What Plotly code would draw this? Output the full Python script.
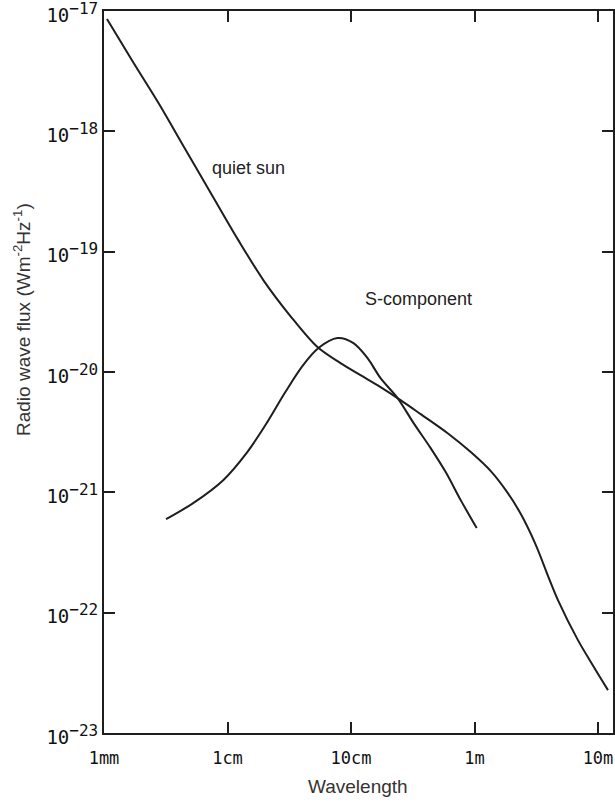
import plotly.graph_objects as go

# Quiet sun curve (wavelength in metres, flux in W m^-2 Hz^-1)
quiet_wavelength = [1.057e-3, 1.718e-3, 2.793e-3, 4.54e-3, 7.66e-3, 1.223e-2, 1.950e-2, 3.23e-2,
                    5.35e-2, 8.22e-2, 0.1194, 0.1735, 0.2520, 0.3664, 0.6067, 0.933, 1.355,
                    1.862, 2.373, 3.14, 4.00, 4.74, 6.88, 9.28, 12.05]
quiet_flux = [8.58e-18, 3.77e-18, 1.687e-18, 7.13e-19, 2.84e-19, 1.248e-19, 5.81e-20, 2.92e-20,
              1.611e-20, 1.186e-20, 9.42e-21, 7.49e-21, 5.84e-21, 4.47e-21, 3.10e-21, 2.16e-21,
              1.50e-21, 9.85e-22, 6.59e-22, 3.64e-22, 1.936e-22, 1.271e-22, 5.91e-23, 3.52e-23,
              2.27e-23]

# S-component curve
s_wavelength = [3.18e-3, 5.27e-3, 9.23e-3, 1.446e-2, 2.10e-2, 2.94e-2, 4.04e-2, 5.45e-2,
                7.77e-2, 0.1047, 0.1361, 0.1735, 0.2384, 0.3214, 0.4416, 0.5845, 0.7733, 1.042]
s_flux = [5.98e-22, 8.13e-22, 1.262e-21, 2.16e-21, 3.83e-21, 6.81e-21, 1.119e-20, 1.581e-20,
          1.914e-20, 1.738e-20, 1.304e-20, 8.89e-21, 6.07e-21, 3.76e-21, 2.33e-21, 1.472e-21,
          8.61e-22, 5.04e-22]

x_tickvals = [1e-3, 1e-2, 1e-1, 1, 10]
x_ticktext = ["1mm", "1cm", "10cm", "1m", "10m"]
y_tickvals = [1e-23, 1e-22, 1e-21, 1e-20, 1e-19, 1e-18, 1e-17]
y_exponents = ["\u221223", "\u221222", "\u221221", "\u221220", "\u221219", "\u221218", "\u221217"]
y_ticktext = ["10<sup><span style='font-size:16px'>%s</span></sup>" % e for e in y_exponents]

INK = "#1e1e1e"
line_style = dict(color=INK, width=2, shape="spline", smoothing=0.9)

fig = go.Figure()
fig.add_trace(go.Scatter(x=quiet_wavelength, y=quiet_flux, mode="lines", line=line_style,
                         showlegend=False, hoverinfo="skip"))
fig.add_trace(go.Scatter(x=s_wavelength, y=s_flux, mode="lines", line=line_style,
                         showlegend=False, hoverinfo="skip"))

label_font = dict(family="Liberation Sans, Arial", size=18, color="#222")
fig.add_annotation(x=-2.14, y=-18.305, xref="x", yref="y", text="quiet sun", showarrow=False,
                   xanchor="left", yanchor="middle", font=label_font)
fig.add_annotation(x=-0.903, y=-19.39, xref="x", yref="y", text="S-component", showarrow=False,
                   xanchor="left", yanchor="middle", font=label_font)

title_font = dict(family="Liberation Sans, Arial", size=19, color="#333")
fig.add_annotation(x=358, y=786, xref="paper", yref="paper", text="Wavelength", showarrow=False,
                   font=title_font, xanchor="center", yanchor="middle")
fig.add_annotation(x=22, y=320, xref="paper", yref="paper",
                   text="Radio wave flux (Wm<sup>-2</sup>Hz<sup>-1</sup>)", showarrow=False,
                   textangle=-90, font=title_font, xanchor="center", yanchor="middle")

axis_common = dict(showline=True, linecolor=INK, linewidth=2, mirror="ticks",
                   ticks="inside", tickcolor=INK, tickwidth=2, showgrid=False,
                   zeroline=False, automargin=False, ticklabeloverflow="allow")

fig.update_xaxes(type="log", range=[-3, 1.1215], tickvals=x_tickvals, ticktext=x_ticktext,
                 ticklen=11, ticklabelstandoff=9,
                 tickfont=dict(family="DejaVu Sans Mono", size=17, color="#111"),
                 **axis_common)
fig.update_yaxes(type="log", range=[-23.0005, -16.9995], tickvals=y_tickvals, ticktext=y_ticktext,
                 ticklen=11, ticklabelstandoff=0, ticklabelshift=4,
                 tickfont=dict(family="DejaVu Sans Mono", size=19, color="#111"),
                 **axis_common)

fig.update_layout(width=615, height=803, margin=dict(l=104, r=2, t=11, b=70),
                  paper_bgcolor="white", plot_bgcolor="white")

# convert pixel placement of titles to paper coordinates
pw, ph = 615 - 104 - 2, 803 - 11 - 70
for ann in fig.layout.annotations:
    if ann.xref == "paper":
        ann.x = (ann.x - 104) / pw
        ann.y = 1 - (ann.y - 11) / ph

fig.write_html("out.html", config={"displayModeBar": False},
               post_script="document.body.style.margin='0';document.body.style.overflow='hidden';")
